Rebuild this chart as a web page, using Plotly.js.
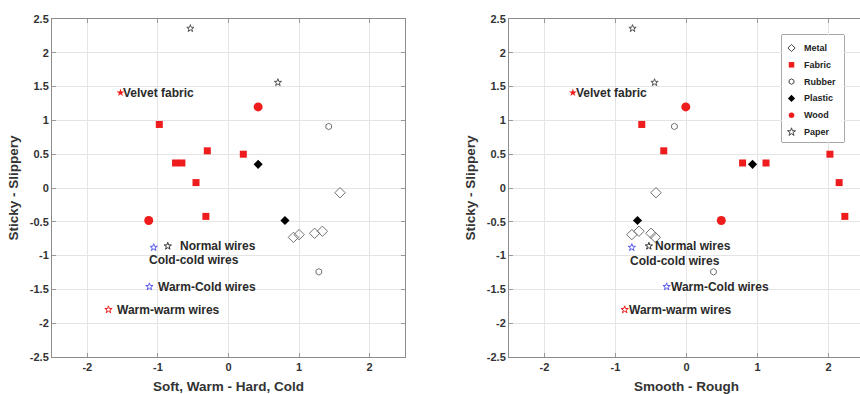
<!DOCTYPE html>
<html>
<head>
<meta charset="utf-8">
<script src="https://cdn.plot.ly/plotly-3.0.1.min.js"></script>
<style>
html,body{margin:0;padding:0;overflow:hidden;background:#fff;}
#chart{width:866px;height:394px;}
</style>
</head>
<body>
<div id="chart"></div>
<script>
// ---------- data ----------
const materials = ['Metal', 'Fabric', 'Rubber', 'Plastic', 'Wood', 'Paper'];

// Sticky - Slippery (shared vertical value of each sample)
const metalY   = [-0.07, -0.73, -0.69, -0.67, -0.64];
const fabricY  = [0.94, 0.55, 0.50, 0.37, 0.37, 0.08, -0.42];
const rubberY  = [0.91, -1.24];
const plasticY = [0.35, -0.48];
const woodY    = [1.20, -0.48];
const paperY   = [2.36, 1.56];

// Soft, Warm - Hard, Cold (left chart)
const metalX1   = [1.58, 0.92, 1.00, 1.22, 1.33];
const fabricX1  = [-0.98, -0.30, 0.21, -0.75, -0.66, -0.46, -0.32];
const rubberX1  = [1.42, 1.28];
const plasticX1 = [0.42, 0.80];
const woodX1    = [0.42, -1.13];
const paperX1   = [-0.54, 0.70];

// Smooth - Rough (right chart)
const metalX2   = [-0.43, -0.44, -0.77, -0.50, -0.67];
const fabricX2  = [-0.63, -0.32, 2.02, 0.79, 1.12, 2.15, 2.23];
const rubberX2  = [-0.17, 0.38];
const plasticX2 = [0.93, -0.69];
const woodX2    = [-0.01, 0.49];
const paperX2   = [-0.76, -0.45];

// Labelled samples
const velvetName = 'Velvet fabric';
const velvetY  = 1.41;
const velvetX1 = -1.53;
const velvetX2 = -1.60;

const wireNames = ['Normal wires', 'Cold-cold wires', 'Warm-Cold wires', 'Warm-warm wires'];
const wireY  = [-0.86, -0.88, -1.46, -1.80];
const wireX1 = [-0.86, -1.06, -1.12, -1.70];
const wireX2 = [-0.53, -0.77, -0.28, -0.87];

const xTitles = ['Soft, Warm - Hard, Cold', 'Smooth - Rough'];
const yTitle = 'Sticky - Slippery';
const yTickVals = [-2.5, -2, -1.5, -1, -0.5, 0, 0.5, 1, 1.5, 2, 2.5];
const yTickText = ['-2.5', '-2', '-1.5', '-1', '-0.5', '0', '0.5', '1', '1.5', '2', '2.5'];
const xTickVals = [-2, -1, 0, 1, 2];
const xTickText = ['-2', '-1', '0', '1', '2'];

// ---------- styles ----------
const RED = '#ee1c1c';
const BLUE = '#5b5bf0';
const GREY = '#707070';
const matStyle = {
  Metal:   {symbol: 'diamond-open', size: 8, color: GREY, line: {width: 1, color: GREY}},
  Fabric:  {symbol: 'square', size: 7, color: RED, line: {width: 0}},
  Rubber:  {symbol: 'hexagon-open', size: 6.5, color: GREY, line: {width: 1, color: GREY}},
  Plastic: {symbol: 'diamond', size: 7, color: '#000', line: {width: 0}},
  Wood:    {symbol: 'circle', size: 9, color: RED, line: {width: 0}},
  Paper:   {symbol: 'star-open', size: 5.5, color: '#555', line: {width: 1, color: '#555'}}
};
const legendStyle = {
  Metal:   {symbol: 'diamond-open', size: 5.5, color: '#444', line: {width: 1, color: '#444'}},
  Fabric:  {symbol: 'square', size: 5.5, color: RED, line: {width: 0}},
  Rubber:  {symbol: 'hexagon-open', size: 5.5, color: '#444', line: {width: 1, color: '#444'}},
  Plastic: {symbol: 'diamond', size: 5.5, color: '#000', line: {width: 0}},
  Wood:    {symbol: 'circle', size: 5.5, color: RED, line: {width: 0}},
  Paper:   {symbol: 'star-open', size: 6, color: '#444', line: {width: 1, color: '#444'}}
};
const wireStyle = [
  {color: '#333', symbol: 'star-open'},
  {color: BLUE, symbol: 'star-open'},
  {color: BLUE, symbol: 'star-open'},
  {color: RED, symbol: 'star-open'}
];
// label offsets [xshift, yshift] for each chart
const wireLabelShift = [
  [[10, 0], [-7, -13], [7, 0], [7, 0]],
  [[4, 0], [-4, -14], [2, 0], [2, 0]]
];

const matX = [
  [metalX1, fabricX1, rubberX1, plasticX1, woodX1, paperX1],
  [metalX2, fabricX2, rubberX2, plasticX2, woodX2, paperX2]
];
const matY = [metalY, fabricY, rubberY, plasticY, woodY, paperY];

const traces = [];
const annotations = [];
const shapes = [];
const FONT = 'Liberation Sans, Arial, sans-serif';
const labelFont = {family: FONT, size: 12, color: '#2a2a2a', weight: 'bold'};

[0, 1].forEach(function (p) {
  const xa = p === 0 ? 'x' : 'x2';
  const ya = p === 0 ? 'y' : 'y2';
  materials.forEach(function (m, i) {
    traces.push({
      type: 'scatter', mode: 'markers', name: m,
      x: matX[p][i], y: matY[i], xaxis: xa, yaxis: ya,
      showlegend: false, marker: matStyle[m], cliponaxis: false
    });
  });
  // velvet fabric
  traces.push({
    type: 'scatter', mode: 'markers', name: velvetName,
    x: [p === 0 ? velvetX1 : velvetX2], y: [velvetY], xaxis: xa, yaxis: ya,
    showlegend: false, marker: {symbol: 'star', size: 6, color: RED}
  });
  annotations.push({
    xref: xa, yref: ya, x: p === 0 ? velvetX1 : velvetX2, y: velvetY,
    text: velvetName, showarrow: false, xanchor: 'left', yanchor: 'middle',
    xshift: 1, font: labelFont
  });
  // wires
  const wx = p === 0 ? wireX1 : wireX2;
  wireNames.forEach(function (n, i) {
    traces.push({
      type: 'scatter', mode: 'markers', name: n,
      x: [wx[i]], y: [wireY[i]], xaxis: xa, yaxis: ya, showlegend: false,
      marker: {symbol: wireStyle[i].symbol, size: 5.5, color: wireStyle[i].color,
               line: {width: 1, color: wireStyle[i].color}}
    });
    annotations.push({
      xref: xa, yref: ya, x: wx[i], y: wireY[i], text: n, showarrow: false,
      xanchor: 'left', yanchor: 'middle',
      xshift: wireLabelShift[p][i][0], yshift: wireLabelShift[p][i][1],
      font: labelFont
    });
  });
});

// ---------- legend box (drawn on its own small axes) ----------
shapes.push({
  type: 'rect', xref: 'x3 domain', yref: 'y3 domain', x0: 0, x1: 1, y0: 0, y1: 1,
  line: {color: '#555', width: 1}, fillcolor: '#fff', layer: 'below'
});
materials.forEach(function (m, i) {
  traces.push({
    type: 'scatter', mode: 'markers', name: m, x: [0], y: [i],
    xaxis: 'x3', yaxis: 'y3', showlegend: false, marker: legendStyle[m],
    cliponaxis: false, hoverinfo: 'skip'
  });
  annotations.push({
    xref: 'x3', yref: 'y3', x: 0, y: i, text: m, showarrow: false,
    xanchor: 'left', yanchor: 'middle', xshift: 10,
    font: {family: FONT, size: 9, color: '#222', weight: 'bold'}
  });
});

function xAxis(domain, title, anchor) {
  return {
    domain: domain, range: [-2.5, 2.5], anchor: anchor,
    tickvals: xTickVals, ticktext: xTickText,
    ticks: 'inside', ticklen: 4, tickcolor: '#999', mirror: 'ticks',
    showline: true, linecolor: '#8c8c8c', linewidth: 1,
    showgrid: true, gridcolor: '#e4e4e4', zeroline: false,
    tickfont: {family: FONT, size: 11, color: '#333', weight: 'bold'},
    title: {text: title, font: {family: FONT, size: 13.5, color: '#333', weight: 'bold'}, standoff: 9}
  };
}
function yAxis(anchor) {
  return {
    domain: [0, 1], range: [-2.5, 2.5], anchor: anchor,
    tickvals: yTickVals, ticktext: yTickText,
    ticks: 'inside', ticklen: 4, tickcolor: '#999', mirror: 'ticks',
    showline: true, linecolor: '#8c8c8c', linewidth: 1,
    showgrid: true, gridcolor: '#e4e4e4', zeroline: false,
    tickfont: {family: FONT, size: 11, color: '#333', weight: 'bold'},
    title: {text: yTitle, font: {family: FONT, size: 13.5, color: '#333', weight: 'bold'}, standoff: 8}
  };
}
const hiddenAxis = {visible: false, showgrid: false, zeroline: false, fixedrange: true};

const layout = {
  width: 866, height: 394,
  margin: {l: 52, r: 2, t: 19, b: 37},
  paper_bgcolor: '#fff', plot_bgcolor: '#fff',
  showlegend: false,
  xaxis: xAxis([0, 0.4347], xTitles[0], 'y'),
  yaxis: yAxis('x'),
  xaxis2: xAxis([0.5628, 1], xTitles[1], 'y2'),
  yaxis2: yAxis('x2'),
  xaxis3: Object.assign({domain: [0.899, 0.9754], range: [-0.98, 5.4], anchor: 'y3'}, hiddenAxis),
  yaxis3: Object.assign({domain: [0.636, 0.9527], range: [5.595, -0.774], anchor: 'x3'}, hiddenAxis),
  annotations: annotations,
  shapes: shapes
};

Plotly.newPlot('chart', traces, layout, {displayModeBar: false, staticPlot: true});
</script>
</body>
</html>
